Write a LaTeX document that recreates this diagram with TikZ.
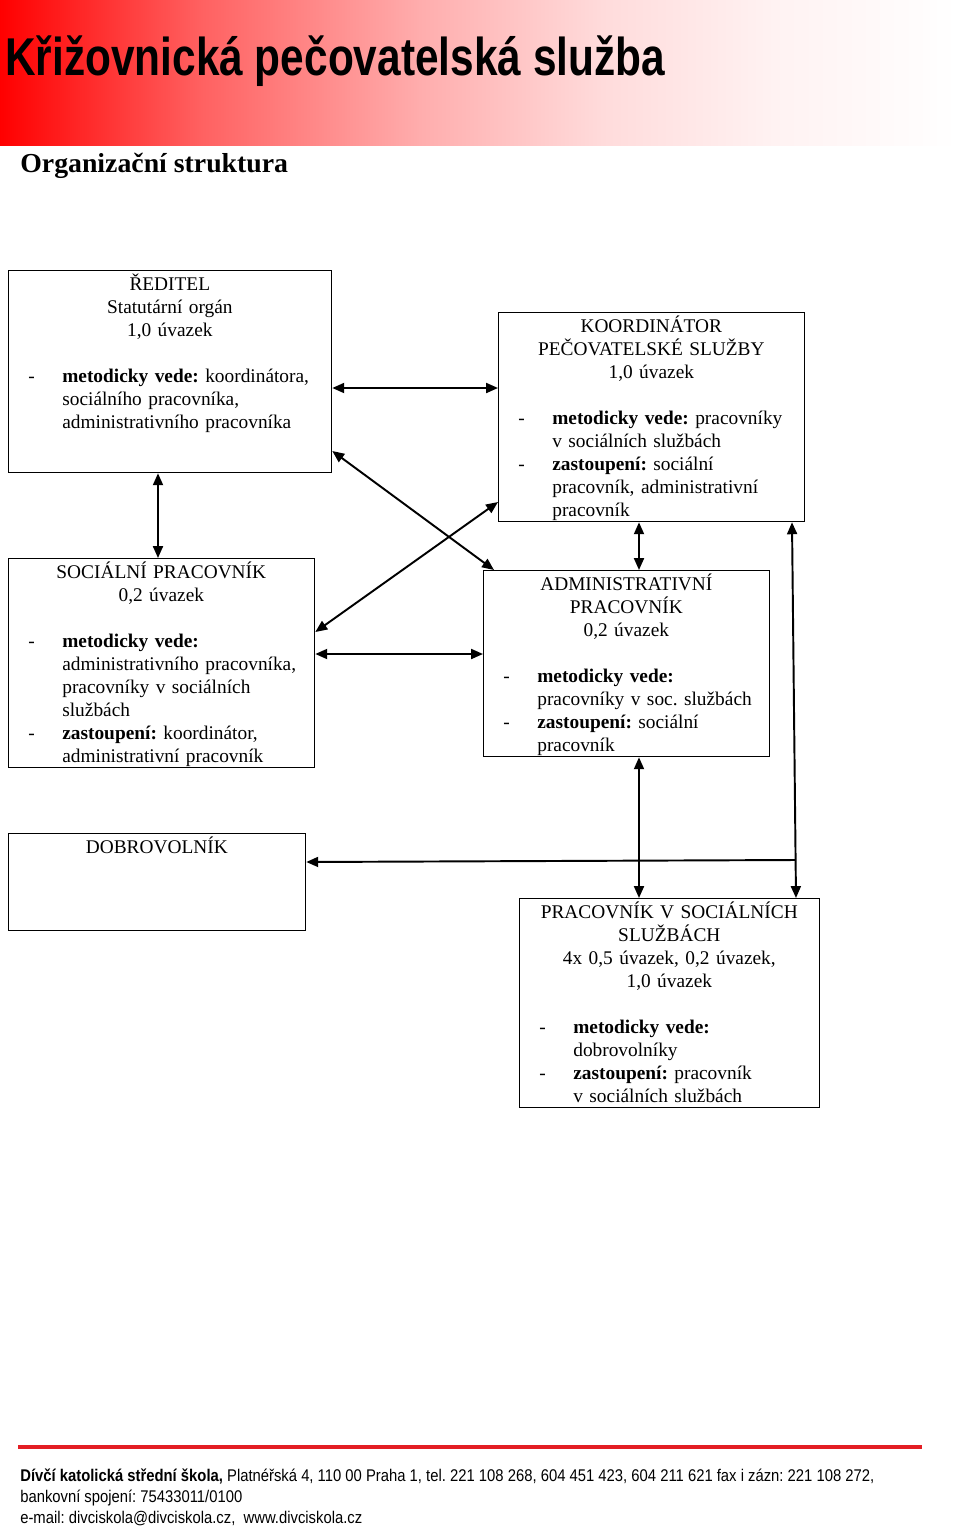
\documentclass[tikz,border=0pt]{standalone}
\usepackage{fontspec}
\usepackage{graphicx}
\setmainfont{Liberation Serif}
\newfontfamily\bezpatkove{Liberation Sans}
\usetikzlibrary{arrows.meta}
\definecolor{zahlavi}{HTML}{FF0000}
\definecolor{linka}{HTML}{E31E24}
\setlength{\parindent}{0pt}
\setlength{\parskip}{0pt}
\frenchspacing
\def\px{0.62pt}
% tikz roztahne stred prechodu (25bp az 75bp) na cely obdelnik
\pgfdeclarehorizontalshading{prechod}{100bp}{color(0bp)=(zahlavi); color(25bp)=(zahlavi); color(35.5bp)=(zahlavi!62); color(47bp)=(zahlavi!32); color(56.5bp)=(zahlavi!14); color(65.5bp)=(zahlavi!5); color(75bp)=(white); color(100bp)=(white)}
% radek vystredeny na celou sirku ramecku
\newcommand{\stred}[1]{\hspace*{-12.4pt}\makebox[\dimexpr\hsize+14.88pt\relax][c]{#1}\hspace*{-2.48pt}}
\newcommand{\pomlcka}{\makebox[21.08pt][l]{-}}
\newcommand{\odsad}{\hspace*{21.08pt}}
\newcommand{\prvni}{\rule{0pt}{12pt}}

\begin{document}
\begin{tikzpicture}[x=0.62pt,y=-0.62pt,
		ramec/.style={draw,line width=0.8pt,inner sep=0pt,anchor=north west},
		popis/.style={anchor=north west,inner sep=0pt,align=left,font=\fontsize{12pt}{14.26pt}\selectfont},
		sipka/.style={{Triangle[length=7.4pt,width=6.2pt]}-{Triangle[length=7.4pt,width=6.2pt]},line width=1.2pt},
		sipka1/.style={-{Triangle[length=7.4pt,width=6.2pt]},line width=1.2pt}
		]
		\useasboundingbox (0,0) rectangle (960,1530);
		% zahlavi
		\shade[shading=prechod] (0,0) rectangle (958,145);
		\node[anchor=base west,inner sep=0pt] (nadpis) at (5,75) {\resizebox{409pt}{\height}{\bezpatkove\bfseries\fontsize{33pt}{36pt}\selectfont Křižovnická pečovatelská služba}};
		\node[anchor=base west,inner sep=0pt] (podnadpis) at (20,172) {\resizebox{166pt}{\height}{\bfseries\fontsize{17pt}{20pt}\selectfont Organizační struktura}};

		% ramecky
		\node[ramec,minimum width=323*\px,minimum height=202*\px] (reditel) at (8,270) {};
		\node[ramec,minimum width=306*\px,minimum height=209*\px] (koord) at (498,312) {};
		\node[ramec,minimum width=306*\px,minimum height=209*\px] (socpr) at (8,558) {};
		\node[ramec,minimum width=286*\px,minimum height=186*\px] (admin) at (483,570) {};
		\node[ramec,minimum width=297*\px,minimum height=97*\px] (dobro) at (8,833) {};
		\node[ramec,minimum width=300*\px,minimum height=209*\px] (pracss) at (519,898) {};

		\node[popis,text width=185.38pt] (reditel-t) at ([xshift=12.4pt,yshift=-0.4pt]reditel.north west) {%
			\prvni\stred{ŘEDITEL}\\
			\stred{Statutární orgán}\\
			\stred{1,0 úvazek}\\
			\mbox{}\\
			\pomlcka\textbf{metodicky vede:} koordinátora,\\
			\odsad sociálního pracovníka,\\
			\odsad administrativního pracovníka};
		\node[popis,text width=174.84pt] (koord-t) at ([xshift=12.4pt,yshift=-0.4pt]koord.north west) {%
			\prvni\stred{KOORDINÁTOR}\\
			\stred{PEČOVATELSKÉ SLUŽBY}\\
			\stred{1,0 úvazek}\\
			\mbox{}\\
			\pomlcka\textbf{metodicky vede:} pracovníky\\
			\odsad v sociálních službách\\
			\pomlcka\textbf{zastoupení:} sociální\\
			\odsad pracovník, administrativní\\
			\odsad pracovník};
		\node[popis,text width=174.84pt] (socpr-t) at ([xshift=12.4pt,yshift=-0.4pt]socpr.north west) {%
			\prvni\stred{SOCIÁLNÍ PRACOVNÍK}\\
			\stred{0,2 úvazek}\\
			\mbox{}\\
			\pomlcka\textbf{metodicky vede:}\\
			\odsad administrativního pracovníka,\\
			\odsad pracovníky v sociálních\\
			\odsad službách\\
			\pomlcka\textbf{zastoupení:} koordinátor,\\
			\odsad administrativní pracovník};
		\node[popis,text width=162.44pt] (admin-t) at ([xshift=12.4pt,yshift=-0.4pt]admin.north west) {%
			\prvni\stred{ADMINISTRATIVNÍ}\\
			\stred{PRACOVNÍK}\\
			\stred{0,2 úvazek}\\
			\mbox{}\\
			\pomlcka\textbf{metodicky vede:}\\
			\odsad pracovníky v soc. službách\\
			\pomlcka\textbf{zastoupení:} sociální\\
			\odsad pracovník};
		\node[popis,text width=169.26pt] (dobro-t) at ([xshift=12.4pt,yshift=-0.4pt]dobro.north west) {%
			\prvni\stred{DOBROVOLNÍK}};
		\node[popis,text width=171.12pt] (pracss-t) at ([xshift=12.4pt,yshift=-0.4pt]pracss.north west) {%
			\prvni\stred{PRACOVNÍK V SOCIÁLNÍCH}\\
			\stred{SLUŽBÁCH}\\
			\stred{4x 0,5 úvazek, 0,2 úvazek,}\\
			\stred{1,0 úvazek}\\
			\mbox{}\\
			\pomlcka\textbf{metodicky vede:}\\
			\odsad dobrovolníky\\
			\pomlcka\textbf{zastoupení:} pracovník\\
			\odsad v sociálních službách};

		% vazby
		\draw[sipka] (reditel.east |- 0,388) -- (koord.west |- 0,388);
		\draw[sipka] (reditel.south -| 158,0) -- (socpr.north -| 158,0);
		\draw[sipka] (reditel.east |- 0,451) -- (admin.north -| 494,0);
		\draw[sipka] (socpr.east |- 0,632) -- (koord.west |- 0,502);
		\draw[sipka] (socpr.east |- 0,654) -- (admin.west |- 0,654);
		\draw[sipka] (koord.south -| 639,0) -- (admin.north -| 639,0);
		\draw[sipka] (admin.south -| 639,0) -- (pracss.north -| 639,0);
		\draw[sipka] (koord.south -| 792,0) -- (pracss.north -| 796,0);
		\coordinate (odbocka) at (795.6,860);
		\draw[sipka1] (odbocka) -- (dobro.east |- 0,862);

		% paticka
		\draw[linka,line width=1.9pt] (18,1447) -- (922,1447);
		\node[anchor=base west,inner sep=0pt] (paticka1) at (20,1481) {\resizebox{529.5pt}{\height}{\bezpatkove\fontsize{10.5pt}{12pt}\selectfont\textbf{Dívčí katolická střední škola,} Platnéřská 4, 110 00 Praha 1, tel. 221 108 268, 604 451 423, 604 211 621 fax i zázn: 221 108 272,}};
		\node[anchor=base west,inner sep=0pt] (paticka2) at (20,1502) {\resizebox{137.6pt}{\height}{\bezpatkove\fontsize{10.5pt}{12pt}\selectfont bankovní spojení: 75433011/0100}};
		\node[anchor=base west,inner sep=0pt] (paticka3) at (20,1523) {\resizebox{212pt}{\height}{\bezpatkove\fontsize{10.5pt}{12pt}\selectfont e-mail: divciskola@divciskola.cz,\ \ www.divciskola.cz}};
	\end{tikzpicture}
\end{document}
